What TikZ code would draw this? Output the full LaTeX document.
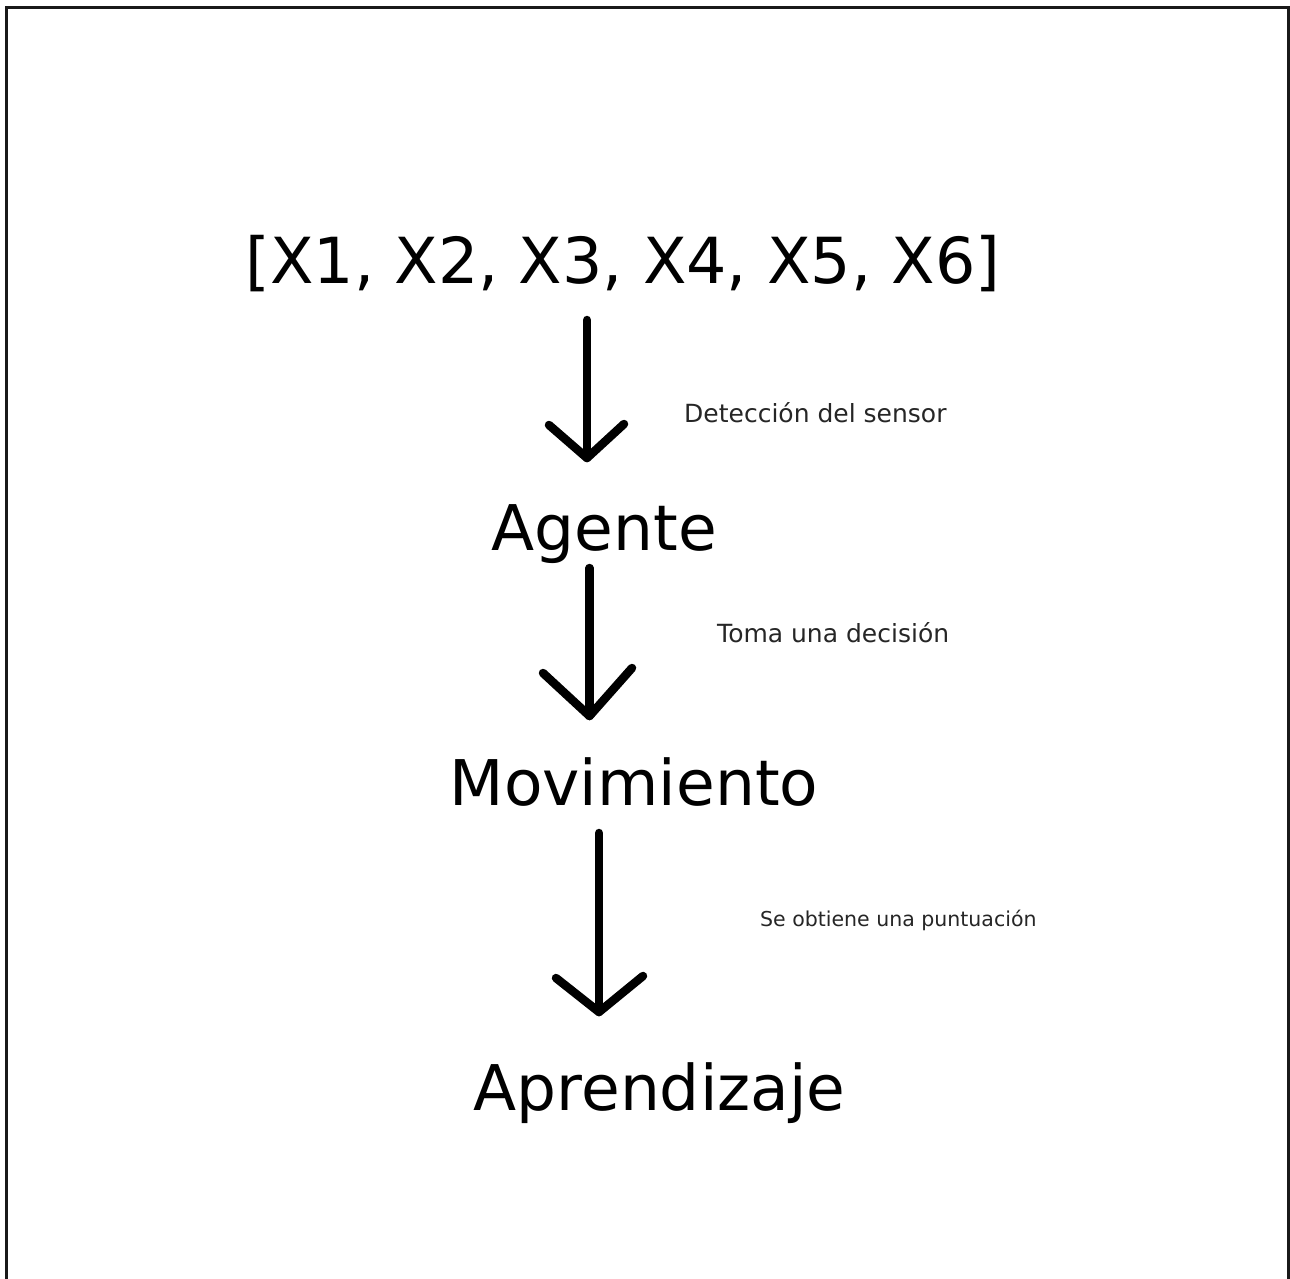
\documentclass[tikz,border=0pt]{standalone}
\usepackage{fontspec}
\setmainfont{DejaVu Sans}
\begin{document}
\begin{tikzpicture}[x=1pt,y=-1pt,
  big/.style={inner sep=0pt,anchor=base,text=black,font=\fontsize{63}{70}\selectfont},
  small/.style={inner sep=0pt,anchor=base west,text=black!85},
  conn/.style={line width=8.5pt,line cap=round,line join=round,black},
  frame/.style={line width=3pt,black!90}]
\useasboundingbox (0,0) rectangle (1290,1278);
\fill[white] (0,0) rectangle (1290,1278);
\draw[frame] (6.5,1280) -- (6.5,7.5) -- (1288,7.5) -- (1288,1280);

% main nodes
\node[big,font=\fontsize{63.5}{70}\selectfont] (vec) at (623,283) {[X1, X2, X3, X4, X5, X6]};
\node[big] (agente) at (604.5,550) {Agente};
\node[big] (mov) at (634,805) {Movimiento};
\node[big] (apr) at (659.5,1110) {Aprendizaje};

% labels
\node[small,font=\fontsize{25}{30}\selectfont] (l1) at (684,422) {Detección del sensor};
\node[small,font=\fontsize{25}{30}\selectfont] (l2) at (717,642) {Toma una decisión};
\node[small,font=\fontsize{20.5}{25}\selectfont] (l3) at (760,926) {Se obtiene una puntuación};

% arrow 1
\coordinate (s1) at (587,320);
\coordinate (e1) at (587,458);
\draw[conn] (s1) -- (e1);
\draw[conn] (549,425) -- (e1) -- (624,424);

% arrow 2
\coordinate (s2) at (589.5,568);
\coordinate (e2) at (589.5,716);
\draw[conn] (s2) -- (e2);
\draw[conn] (543,673) -- (e2) -- (632,668);

% arrow 3
\coordinate (s3) at (599,833);
\coordinate (e3) at (599,1012);
\draw[conn] (s3) -- (e3);
\draw[conn] (556,978) -- (e3) -- (643,976);
\end{tikzpicture}
\end{document}
